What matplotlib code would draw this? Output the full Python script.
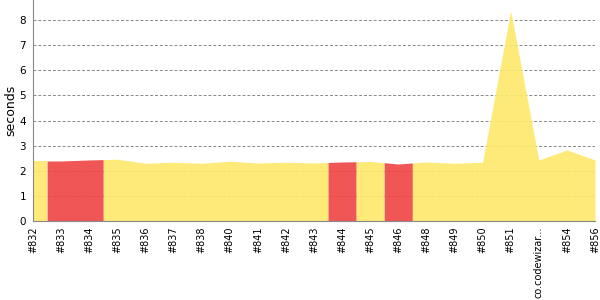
import numpy as np
from matplotlib import pyplot as plt

builds = ["#832", "#833", "#834", "#835", "#836", "#837", "#838", "#840",
          "#841", "#842", "#843", "#844", "#845", "#846", "#848", "#849",
          "#850", "#851", "co.codewizar...", "#854", "#856"]
seconds = [2.39, 2.39, 2.43, 2.46, 2.30, 2.34, 2.30, 2.38,
           2.31, 2.34, 2.31, 2.35, 2.37, 2.27, 2.35, 2.30,
           2.34, 8.37, 2.43, 2.83, 2.43]
failed = ["#833", "#834", "#844", "#846"]

yellow = "#fde96c"
red = "#f04848"

fig = plt.figure(figsize=(6, 3), dpi=100)
ax = fig.add_axes([33/600, 79/300, 562/600, 221/300])

x = np.arange(len(builds))
y = np.array(seconds)
n = len(builds)

# group consecutive builds of the same status; each build owns
# the strip halfway to its neighbours
runs = []
for i, name in enumerate(builds):
    status = name in failed
    if runs and runs[-1][0] == status:
        runs[-1][2] = i
    else:
        runs.append([status, i, i])

for status, a, b in runs:
    lo = max(a - 0.5, 0)
    hi = min(b + 0.5, n - 1)
    xs = [lo] + list(range(a, b + 1)) + [hi]
    ys = np.interp(xs, x, y)
    ax.fill_between(xs, ys, color=red if status else yellow,
                    alpha=0.92, lw=0, zorder=2)

ax.set_xlim(0, n - 1)
ax.set_ylim(0, 8.8)
ax.set_yticks(range(0, 9))
ax.set_xticks(x)
ax.set_xticklabels(builds, rotation=90, fontsize=7)
ax.tick_params(axis="y", labelsize=7.5, length=0, pad=5)
ax.tick_params(axis="x", length=0, pad=4)
ax.set_ylabel("seconds", fontsize=9)
ax.yaxis.set_label_coords(-0.028, 0.5)

ax.grid(axis="y", linestyle=(0, (3, 2)), color="#888888", lw=0.7, zorder=1)
ax.set_axisbelow(True)
for side in ("top", "right"):
    ax.spines[side].set_visible(False)
for side in ("left", "bottom"):
    ax.spines[side].set_color("#888888")

fig.savefig("out.png", dpi=100)
